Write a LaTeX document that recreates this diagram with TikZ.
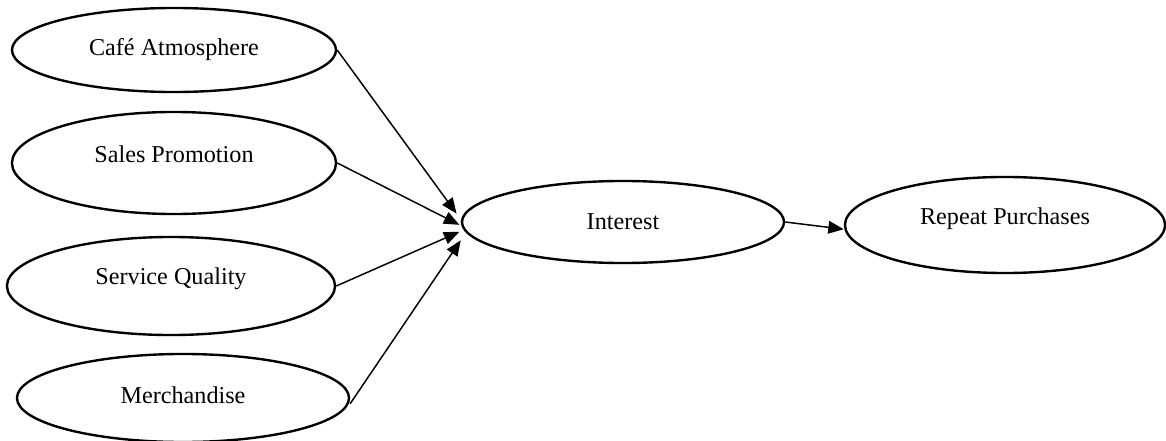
\documentclass[tikz,border=0pt]{standalone}
\usepackage{fontspec}
\setmainfont{Liberation Serif}
\usetikzlibrary{arrows.meta,shapes.geometric}

\begin{document}
\begin{tikzpicture}[x=0.025cm,y=-0.025cm,
  oval/.style={draw,ellipse,line width=1.7pt,inner sep=0pt,minimum width=8.1cm,minimum height=2.1cm},
  every label/.style={font=\fontsize{17.2}{20}\selectfont},
  link/.style={->,line width=1.05pt},
  >={Triangle[length=11pt,width=9pt]}]
\useasboundingbox (0,0) rectangle (1166,441);
% left-hand factors
\node[oval,label={center:Café Atmosphere}] (cafe) at (174,50) {};
\node[oval,minimum height=2.55cm,label={[yshift=0.22cm]center:Sales Promotion}] (sales) at (174,163) {};
\node[oval,minimum width=8.2cm,minimum height=2.45cm,label={[yshift=0.17cm]center:Service Quality}] (service) at (171,286) {};
\node[oval,minimum width=8.3cm,minimum height=2.2cm,label={[yshift=0.08cm]center:Merchandise}] (merch) at (183,398) {};
% outcome chain
\node[oval,minimum width=8.05cm,minimum height=2.05cm,label={center:Interest}] (interest) at (623,222) {};
\node[oval,minimum width=8cm,minimum height=2.4cm,label={[yshift=0.17cm]center:Repeat Purchases}] (repeat) at (1005,225) {};
\draw[link] (cafe.east) -- ([xshift=-3pt,yshift=6pt]interest.west);
\draw[link] (sales.east) -- ([xshift=-1pt,yshift=-2pt]interest.west);
\draw[link] (service.east) -- ([xshift=-1pt,yshift=-7pt]interest.west);
\draw[link] ([yshift=-4pt]merch.east) -- ([xshift=0pt,yshift=-13pt]interest.west);
\draw[link] (interest.east) -- ([yshift=-3pt]repeat.west);
\end{tikzpicture}
\end{document}
